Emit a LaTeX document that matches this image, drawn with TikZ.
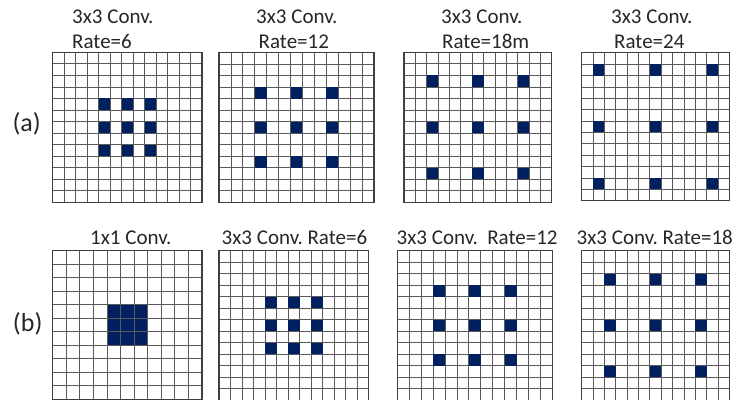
\documentclass[tikz,border=0pt]{standalone}
\usepackage{fontspec}
\setmainfont{Carlito}
\definecolor{convblue}{RGB}{0,32,96}

\begin{document}
\frenchspacing
\begin{tikzpicture}[x=1pt,y=1pt,
    every node/.style={font=\fontsize{21}{25}\selectfont,inner sep=0pt,text=black!85},
    gridlines/.style={draw=black!65,line width=0.7pt,step=1},
    gridframe/.style={draw=black!75,line width=1.4pt},
    convdot/.style={fill=convblue},
    rowtag/.style={font=\fontsize{26}{30}\selectfont}]
        \useasboundingbox (0,0) rectangle (739,399);
        % row (a)
        \node[rowtag] (taga) at (26.7,275) {(a)};
        \node[anchor=base west] (ta1) at (72,375.7) {3x3 Conv.};
        \node[anchor=base west] (ra1) at (72,350) {Rate=6};
        \node[anchor=base west] (ta2) at (256,375.7) {3x3 Conv.};
        \node[anchor=base west] (ra2) at (258.5,350) {Rate=12};
        \node[anchor=base west] (ta3) at (441,375.7) {3x3 Conv.};
        \node[anchor=base west] (ra3) at (442,350) {Rate=18m};
        \node[anchor=base west] (ta4) at (611,375.7) {3x3 Conv.};
        \node[anchor=base west] (ra4) at (614,350) {Rate=24};
        \begin{scope}[shift={(52.7,196.7)},x=11.485pt,y=11.54pt]
            \draw[gridlines] (0,0) grid (13,13);
            \foreach \i in {4,6,8} \foreach \j in {4,6,8} \fill[convdot] (\i,\j) rectangle +(1,1);
            \draw[gridframe] (0,0) rectangle (13,13);
        \end{scope}
        \begin{scope}[shift={(219,196.7)},x=11.92pt,y=11.51pt]
            \draw[gridlines] (0,0) grid (13,13);
            \foreach \i in {3,6,9} \foreach \j in {3,6,9} \fill[convdot] (\i,\j) rectangle +(1,1);
            \draw[gridframe] (0,0) rectangle (13,13);
        \end{scope}
        \begin{scope}[shift={(404,196.7)},x=11.36pt,y=11.54pt]
            \draw[gridlines] (0,0) grid (13,13);
            \foreach \i in {2,6,10} \foreach \j in {2,6,10} \fill[convdot] (\i,\j) rectangle +(1,1);
            \draw[gridframe] (0,0) rectangle (13,13);
        \end{scope}
        \begin{scope}[shift={(581.7,198.3)},x=11.35pt,y=11.38pt]
            \draw[gridlines] (0,0) grid (13,13);
            \foreach \i in {1,6,11} \foreach \j in {1,6,11} \fill[convdot] (\i,\j) rectangle +(1,1);
            \draw[gridframe] (0,0) rectangle (13,13);
        \end{scope}
        % row (b)
        \node[rowtag] (tagb) at (27.7,75) {(b)};
        \node[anchor=base west] (tb1) at (90,154.7) {1x1 Conv.};
        \node[anchor=base west] (tb2) at (221.5,154.7) {3x3 Conv. Rate=6};
        \node[anchor=base west] (tb3) at (396.5,154.7) {3x3 Conv.\ \ Rate=12};
        \node[anchor=base west] (tb4) at (576.5,154.7) {3x3 Conv. Rate=18};
        \begin{scope}[shift={(52.7,-0.2)},x=13.57pt,y=13.5pt]
            \fill[convdot] (4,4) rectangle (7,7);
            \draw[gridlines] (0,0) grid (11,11);
            \draw[gridframe] (0,0) rectangle (11,11);
        \end{scope}
        \begin{scope}[shift={(219,-1.2)},x=11.52pt,y=11.5pt]
            \draw[gridlines] (0,0) grid (13,13);
            \foreach \i in {4,6,8} \foreach \j in {4,6,8} \fill[convdot] (\i,\j) rectangle +(1,1);
            \draw[gridframe] (0,0) rectangle (13,13);
        \end{scope}
        \begin{scope}[shift={(397.3,-1.2)},x=11.92pt,y=11.5pt]
            \draw[gridlines] (0,0) grid (13,13);
            \foreach \i in {3,6,9} \foreach \j in {3,6,9} \fill[convdot] (\i,\j) rectangle +(1,1);
            \draw[gridframe] (0,0) rectangle (13,13);
        \end{scope}
        \begin{scope}[shift={(581.7,-1.2)},x=11.35pt,y=11.5pt]
            \draw[gridlines] (0,0) grid (13,13);
            \foreach \i in {2,6,10} \foreach \j in {2,6,10} \fill[convdot] (\i,\j) rectangle +(1,1);
            \draw[gridframe] (0,0) rectangle (13,13);
        \end{scope}
    \end{tikzpicture}
\end{document}
